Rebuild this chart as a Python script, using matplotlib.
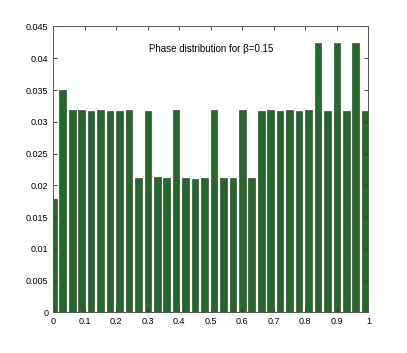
import matplotlib
matplotlib.use('Agg')
import matplotlib.pyplot as plt

# bin centres of the phase histogram
phase = [0.00, 0.03, 0.06, 0.09, 0.12, 0.15, 0.18, 0.21, 0.24, 0.27,
         0.30, 0.33, 0.36, 0.39, 0.42, 0.45, 0.48, 0.51, 0.54, 0.57,
         0.60, 0.63, 0.66, 0.69, 0.72, 0.75, 0.78, 0.81, 0.84, 0.87,
         0.90, 0.93, 0.96, 0.99]

# relative frequency per bin
freq = [0.0178, 0.0350, 0.0318, 0.0318, 0.0317, 0.0318, 0.0317, 0.0317, 0.0318, 0.0211,
        0.0317, 0.0213, 0.0211, 0.0318, 0.0211, 0.0210, 0.0211, 0.0318, 0.0211, 0.0211,
        0.0318, 0.0211, 0.0317, 0.0318, 0.0317, 0.0318, 0.0317, 0.0318, 0.0424, 0.0317,
        0.0424, 0.0317, 0.0424, 0.0317]

xticks = [0, 0.1, 0.2, 0.3, 0.4, 0.5, 0.6, 0.7, 0.8, 0.9, 1]
xticklabels = ['0', '0.1', '0.2', '0.3', '0.4', '0.5', '0.6', '0.7', '0.8', '0.9', '1']
yticks = [0, 0.005, 0.01, 0.015, 0.02, 0.025, 0.03, 0.035, 0.04, 0.045]
yticklabels = ['0', '0.005', '0.01', '0.015', '0.02', '0.025', '0.03', '0.035', '0.04', '0.045']

plt.rcParams['font.family'] = ['Liberation Sans', 'DejaVu Sans']

fig = plt.figure(figsize=(4.07, 3.53), dpi=100)
ax = fig.add_axes([0.131, 0.115, 0.774, 0.81])

ax.bar(phase, freq, width=0.021, color='#1f6b27', edgecolor='#555555', linewidth=0.6)

ax.set_xlim(0, 1)
ax.set_ylim(0, 0.045)
ax.set_xticks(xticks)
ax.set_xticklabels(xticklabels)
ax.set_yticks(yticks)
ax.set_yticklabels(yticklabels)
ax.tick_params(direction='in', length=3, width=0.6, labelsize=6.5, top=True, right=True,
               colors='#333333', labelcolor='black')
for s in ax.spines.values():
    s.set_linewidth(0.7)
    s.set_color('#555555')

ax.text(0.50, 0.0415, 'Phase distribution for \u03b2=0.15', ha='center', va='center', fontsize=7)

fig.savefig('out.png', dpi=100)
